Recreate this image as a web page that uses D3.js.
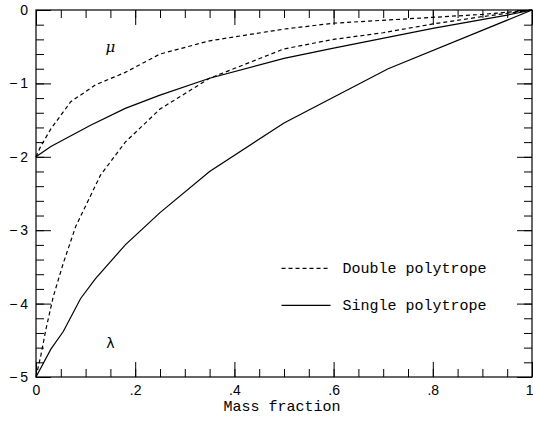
<!DOCTYPE html>
<html>
<head>
<meta charset="utf-8">
<script src="https://cdn.jsdelivr.net/npm/d3@7"></script>
<style>
  body { margin: 0; background: #fff; }
  .tick text { font-family: "Liberation Sans", Arial, sans-serif; font-size: 14px; fill: #000; }
  .mono { font-family: "Liberation Mono", "DejaVu Sans Mono", monospace; font-size: 15px; fill: #000; }
</style>
</head>
<body>
<div id="chart"></div>
<script>
// Curves: [mass fraction, value]
const muDouble = [[0, -2], [0.01, -1.85], [0.03, -1.62], [0.07, -1.25], [0.12, -1.02], [0.18, -0.85],
  [0.25, -0.6], [0.35, -0.42], [0.5, -0.26], [0.6, -0.18], [0.8, -0.1], [0.9, -0.06], [1, 0]];
const muSingle = [[0, -2], [0.03, -1.86], [0.11, -1.57], [0.18, -1.34], [0.25, -1.16], [0.35, -0.93],
  [0.5, -0.66], [0.6, -0.52], [0.8, -0.25], [0.95, -0.07], [1, 0]];
const lambdaDouble = [[0, -5], [0.01, -4.7], [0.02, -4.35], [0.035, -3.9], [0.055, -3.45], [0.08, -2.95],
  [0.13, -2.25], [0.18, -1.8], [0.25, -1.35], [0.35, -0.93], [0.5, -0.53], [0.6, -0.4], [0.7, -0.31],
  [0.8, -0.19], [0.9, -0.09], [1, 0]];
const lambdaSingle = [[0, -5], [0.03, -4.62], [0.055, -4.38], [0.09, -3.93], [0.12, -3.66], [0.18, -3.2],
  [0.25, -2.76], [0.35, -2.2], [0.5, -1.54], [0.71, -0.8], [1, 0]];

const xMajor = [0, 0.2, 0.4, 0.6, 0.8, 1];
const xLabels = ["0", ".2", ".4", ".6", ".8", "1"];
const xMinor = d3.range(0, 1.0001, 0.05);
const yMajor = [0, -1, -2, -3, -4, -5];
const yLabels = ["0", "\u2212\u20091", "\u2212\u20092", "\u2212\u20093", "\u2212\u20094", "\u2212\u20095"];
const yMinor = d3.range(0, -5.0001, -0.2);

const legendItems = [
  { label: "Double polytrope", dash: "4,3" },
  { label: "Single polytrope", dash: null }
];

const margin = { top: 10, right: 1, bottom: 46, left: 36 },
  width = 533 - margin.left - margin.right,
  height = 423 - margin.top - margin.bottom;

const svg = d3.select("#chart").append("svg")
  .attr("width", 533).attr("height", 423)
  .append("g")
  .attr("transform", `translate(${margin.left},${margin.top})`);

const x = d3.scaleLinear().domain([0, 1]).range([0, width]);
const y = d3.scaleLinear().domain([-5, 0]).range([height, 0]);

const major = 15, minor = 8;

function styleAxis(g) {
  g.select(".domain").remove();
  g.selectAll(".tick line").attr("stroke", "#000").attr("stroke-width", 1);
}

// minor ticks, all four sides
svg.append("g").attr("transform", `translate(0,${height})`)
  .call(d3.axisBottom(x).tickValues(xMinor).tickSize(-minor).tickFormat("")).call(styleAxis);
svg.append("g")
  .call(d3.axisTop(x).tickValues(xMinor).tickSize(-minor).tickFormat("")).call(styleAxis);
svg.append("g")
  .call(d3.axisLeft(y).tickValues(yMinor).tickSize(-minor).tickFormat("")).call(styleAxis);
svg.append("g").attr("transform", `translate(${width},0)`)
  .call(d3.axisRight(y).tickValues(yMinor).tickSize(-minor).tickFormat("")).call(styleAxis);

// major ticks
const xAxis = svg.append("g").attr("transform", `translate(0,${height})`)
  .call(d3.axisBottom(x).tickValues(xMajor).tickSize(-major).tickPadding(8)
    .tickFormat((d, i) => xLabels[i])).call(styleAxis);
// last label sits against the right edge
xAxis.selectAll(".tick text").filter(d => d === 1).attr("text-anchor", "end").attr("dx", 1);
svg.append("g")
  .call(d3.axisTop(x).tickValues(xMajor).tickSize(-major).tickFormat("")).call(styleAxis);
svg.append("g")
  .call(d3.axisLeft(y).tickValues(yMajor).tickSize(-major).tickPadding(8)
    .tickFormat((d, i) => yLabels[i])).call(styleAxis);
svg.append("g").attr("transform", `translate(${width},0)`)
  .call(d3.axisRight(y).tickValues(yMajor).tickSize(-major).tickFormat("")).call(styleAxis);

// frame
svg.append("rect")
  .attr("x", 0).attr("y", 0).attr("width", width).attr("height", height)
  .attr("fill", "none").attr("stroke", "#000").attr("stroke-width", 1.2);

const line = d3.line().x(d => x(d[0])).y(d => y(d[1]));

const curves = [
  { data: muDouble, dash: "4,3" },
  { data: lambdaDouble, dash: "4,3" },
  { data: muSingle, dash: null },
  { data: lambdaSingle, dash: null }
];
curves.forEach(c => {
  svg.append("path").datum(c.data)
    .attr("d", line)
    .attr("fill", "none")
    .attr("stroke", "#000")
    .attr("stroke-width", 1.2)
    .attr("stroke-dasharray", c.dash);
});

// curve labels
svg.append("text").attr("x", x(0.15)).attr("y", y(-0.57))
  .attr("text-anchor", "middle").attr("font-style", "italic")
  .attr("font-family", "DejaVu Serif, serif").attr("font-size", 15).text("\u03bc");
svg.append("text").attr("x", x(0.15)).attr("y", y(-4.6))
  .attr("text-anchor", "middle")
  .attr("font-family", "DejaVu Sans, sans-serif").attr("font-size", 14).text("\u03bb");

// legend
const legend = svg.append("g").attr("transform", `translate(${x(0.495)},${y(-3.52)})`);
legendItems.forEach((item, i) => {
  const row = legend.append("g").attr("transform", `translate(0,${i * 37})`);
  row.append("line").attr("x1", 0).attr("x2", 49).attr("y1", 0).attr("y2", 0)
    .attr("stroke", "#000").attr("stroke-width", 1.1).attr("stroke-dasharray", item.dash);
  row.append("text").attr("class", "mono").attr("x", 61).attr("y", 5).text(item.label);
});

// axis title
svg.append("text").attr("class", "mono")
  .attr("x", x(0.496)).attr("y", height + 34)
  .attr("text-anchor", "middle").text("Mass fraction");
</script>
</body>
</html>
